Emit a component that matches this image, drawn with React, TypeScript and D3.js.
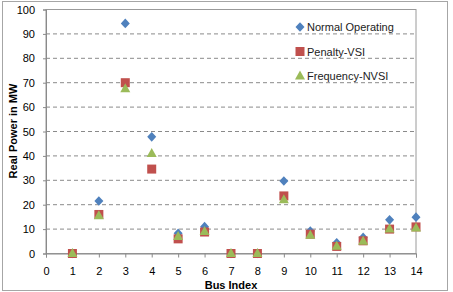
import React, { useEffect, useRef } from "react";
import * as d3 from "d3";

const busIndex = [1, 2, 3, 4, 5, 6, 7, 8, 9, 10, 11, 12, 13, 14];
const normalOperating = [0, 21.5, 94.3, 47.8, 8.3, 11, 0, 0, 29.7, 9.2, 4.4, 6.6, 13.8, 14.9];
const penaltyVSI = [0, 16, 70, 34.6, 6, 8.8, 0, 0, 23.6, 7.9, 2.9, 5.2, 10, 10.9];
const frequencyNVSI = [0, 15.5, 67.5, 41, 7, 9, 0, 0, 22, 7.5, 3, 5, 10, 10.5];
const yTicks = [0, 10, 20, 30, 40, 50, 60, 70, 80, 90, 100];
const xTicks = [0, 1, 2, 3, 4, 5, 6, 7, 8, 9, 10, 11, 12, 13, 14];

const W = 453;
const H = 292;
const font = "'Liberation Sans', Arial, sans-serif";

const diamond = "M0,-4.8L4.5,0L0,4.8L-4.5,0Z";
const square = "M-4.5,-4.5H4.5V4.5H-4.5Z";
const triangle = "M0,-5.5L5,3.5H-5Z";

const series = [
  { name: "Normal Operating", values: normalOperating, color: "#4F81BD", shape: diamond },
  { name: "Penalty-VSI", values: penaltyVSI, color: "#C0504D", shape: square },
  { name: "Frequency-NVSI", values: frequencyNVSI, color: "#9BBB59", shape: triangle },
];

export default function App() {
  const ref = useRef<SVGSVGElement>(null);

  useEffect(() => {
    const svg = d3.select(ref.current);
    svg.selectAll("*").remove();

    const x = d3.scaleLinear().domain([0, 14]).range([46, 416]);
    const y = d3.scaleLinear().domain([0, 100]).range([253.5, 9.5]);

    // outer frame
    svg.append("rect")
      .attr("x", 2.5).attr("y", 1.5).attr("width", 445).attr("height", 289)
      .attr("fill", "white").attr("stroke", "#a6a6a6");

    // plot area border
    svg.append("rect")
      .attr("x", x(0)).attr("y", y(100)).attr("width", x(14) - x(0)).attr("height", y(0) - y(100))
      .attr("fill", "none").attr("stroke", "#9a9a9a");

    // dashed gridlines
    svg.append("g").selectAll("line")
      .data(yTicks.filter((t) => t > 0 && t < 100))
      .join("line")
      .attr("x1", x(0)).attr("x2", x(14))
      .attr("y1", (d) => y(d)).attr("y2", (d) => y(d))
      .attr("stroke", "#8a8a8a").attr("stroke-dasharray", "4,3");

    const yAxis = d3.axisLeft(y).tickValues(yTicks).tickSize(3).tickPadding(8);
    const gy = svg.append("g").attr("transform", `translate(${x(0)},0)`).call(yAxis);
    const xAxis = d3.axisBottom(x).tickValues(xTicks).tickSize(4).tickPadding(10);
    const gx = svg.append("g").attr("transform", `translate(0,${y(0)})`).call(xAxis);

    [gy, gx].forEach((g) => {
      g.select(".domain").attr("stroke", "#8a8a8a");
      g.selectAll(".tick line").attr("stroke", "#8a8a8a");
      g.selectAll("text").attr("font-family", font).attr("font-size", 11).attr("fill", "#000");
    });

    // markers
    series.forEach((s) => {
      svg.append("g").selectAll("path")
        .data(s.values)
        .join("path")
        .attr("d", s.shape)
        .attr("transform", (d, i) => `translate(${x(busIndex[i])},${y(d)})`)
        .attr("fill", s.color);
    });

    // legend
    const legend = svg.append("g").attr("transform", "translate(300,27)");
    series.forEach((s, i) => {
      const row = legend.append("g").attr("transform", `translate(0,${i * 24.5})`);
      row.append("path").attr("d", s.shape).attr("fill", s.color);
      row.append("text")
        .attr("x", 7).attr("y", 4)
        .attr("font-family", font).attr("font-size", 11).attr("fill", "#222")
        .text(s.name);
    });

    // axis titles
    svg.append("text")
      .attr("x", 231).attr("y", 288.5)
      .attr("text-anchor", "middle")
      .attr("font-family", font).attr("font-size", 11).attr("font-weight", "bold")
      .text("Bus Index");

    svg.append("text")
      .attr("transform", "translate(17,131) rotate(-90)")
      .attr("text-anchor", "middle")
      .attr("font-family", font).attr("font-size", 11).attr("font-weight", "bold")
      .text("Real Power in MW");
  }, []);

  return (
    <svg
      ref={ref}
      width={W}
      height={H}
      style={{ position: "absolute", left: 0, top: 0, background: "white" }}
    />
  );
}
